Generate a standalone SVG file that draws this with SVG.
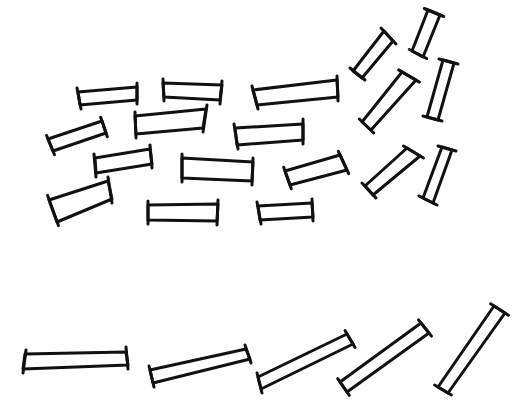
<svg xmlns="http://www.w3.org/2000/svg" width="523" height="404" viewBox="0 0 523 404">
<style>
.rod polygon,.rod line{fill:none;stroke:#111;stroke-width:3;stroke-linecap:round;stroke-linejoin:round}
</style>
<rect width="523" height="404" fill="#fff"/>
<g id="rodA" class="rod"><polygon points="78,92 137,87 137,100 80,105"/><line x1="77" y1="88" x2="81" y2="109"/><line x1="137" y1="83" x2="137" y2="104"/></g>
<g id="rodB" class="rod"><polygon points="163,83 222,85 220,100 164,97"/><line x1="163" y1="79" x2="164" y2="101"/><line x1="222" y1="81" x2="220" y2="104"/></g>
<g id="rodC" class="rod"><polygon points="48,139 102,121 106,133 53,151"/><line x1="46.5" y1="135.3" x2="54.5" y2="154.7"/><line x1="100.7" y1="117.2" x2="107.3" y2="136.8"/></g>
<g id="rodD" class="rod"><polygon points="135,116 206,109 203,128 136,134"/><line x1="135" y1="112" x2="136" y2="138"/><line x1="207" y1="105" x2="203" y2="132"/></g>
<g id="rodE" class="rod"><polygon points="95,158 150,149 152,164 96,173"/><line x1="94" y1="154" x2="96" y2="177"/><line x1="150" y1="145" x2="152" y2="168"/></g>
<g id="rodF" class="rod"><polygon points="182,158 253,162 252,181 182,178"/><line x1="182" y1="154" x2="182" y2="182"/><line x1="253" y1="158" x2="252" y2="185"/></g>
<g id="rodG" class="rod"><polygon points="49,200 108,181 112,199 57,222"/><line x1="47.5" y1="195.3" x2="58.5" y2="225.7"/><line x1="108" y1="177" x2="112" y2="203"/></g>
<g id="rodH" class="rod"><polygon points="148,205 218,204 217,221 148,220"/><line x1="148" y1="201" x2="148" y2="224"/><line x1="218" y1="200" x2="217" y2="225"/></g>
<g id="rodI" class="rod"><polygon points="253,90 337,80 338,97 257,105"/><line x1="252" y1="86" x2="258" y2="109"/><line x1="337" y1="76" x2="338" y2="101"/></g>
<g id="rodJ" class="rod"><polygon points="235,128 303,124 303,140 237,145"/><line x1="234" y1="124" x2="238" y2="149"/><line x1="303" y1="119" x2="303" y2="144"/></g>
<g id="rodL" class="rod"><polygon points="285,171 340,155 347,170 290,185"/><line x1="283.7" y1="167.2" x2="291.3" y2="188.8"/><line x1="338.3" y1="151.4" x2="348.7" y2="173.6"/></g>
<g id="rodM" class="rod"><polygon points="258,206 312,203 313,217 260,220"/><line x1="257" y1="202" x2="261" y2="224"/><line x1="312" y1="199" x2="313" y2="221"/></g>
<g id="rodN" class="rod"><polygon points="353,71 384,31 393,41 362,78"/><line x1="350" y1="68" x2="365" y2="80"/><line x1="381" y1="28" x2="396" y2="44"/></g>
<g id="rodO" class="rod"><polygon points="428,10 440,15 423,57 412,51"/><line x1="424.3" y1="8.5" x2="443.7" y2="16.5"/><line x1="409.3" y1="49.5" x2="426.7" y2="58.5"/></g>
<g id="rodP" class="rod"><polygon points="402,72 416,80 371,130 362,122"/><line x1="398.6" y1="69.9" x2="419.4" y2="82.1"/><line x1="359.3" y1="119" x2="373.7" y2="133"/></g>
<g id="rodQ" class="rod"><polygon points="443,60 454,63 438,120 427,117"/><line x1="439" y1="59" x2="458" y2="64"/><line x1="423" y1="116" x2="442" y2="121"/></g>
<g id="rodR" class="rod"><polygon points="407,148 420,156 373,195 365,186"/><line x1="403.5" y1="146" x2="423.5" y2="158"/><line x1="362" y1="183" x2="376" y2="198"/></g>
<g id="rodS" class="rod"><polygon points="442,147 452,150 433,203 423,198"/><line x1="438" y1="146" x2="456" y2="151"/><line x1="419" y1="196" x2="437" y2="205"/></g>
<g id="rodT" class="rod"><polygon points="25,354 126,352 128,365 23,369"/><line x1="26" y1="350" x2="23" y2="373"/><line x1="126" y1="347" x2="128" y2="369"/></g>
<g id="rodU" class="rod"><polygon points="150,370 246,349 250,359 153,383"/><line x1="149" y1="366" x2="154" y2="387"/><line x1="245" y1="345" x2="251" y2="363"/></g>
<g id="rodV" class="rod"><polygon points="258,377 347,334 353,344 261,389"/><line x1="257" y1="373" x2="262" y2="393"/><line x1="345" y1="330.6" x2="355" y2="347.4"/></g>
<g id="rodW" class="rod"><polygon points="340,382 421,323 429,333 347,392"/><line x1="337.7" y1="378.7" x2="349.3" y2="395.3"/><line x1="418.5" y1="319.9" x2="431.5" y2="336.1"/></g>
<g id="rodX" class="rod"><polygon points="494,306 505,313 448,393 438,387"/><line x1="490.6" y1="303.8" x2="508.4" y2="315.2"/><line x1="434.6" y1="385" x2="451.4" y2="395"/></g>
</svg>
